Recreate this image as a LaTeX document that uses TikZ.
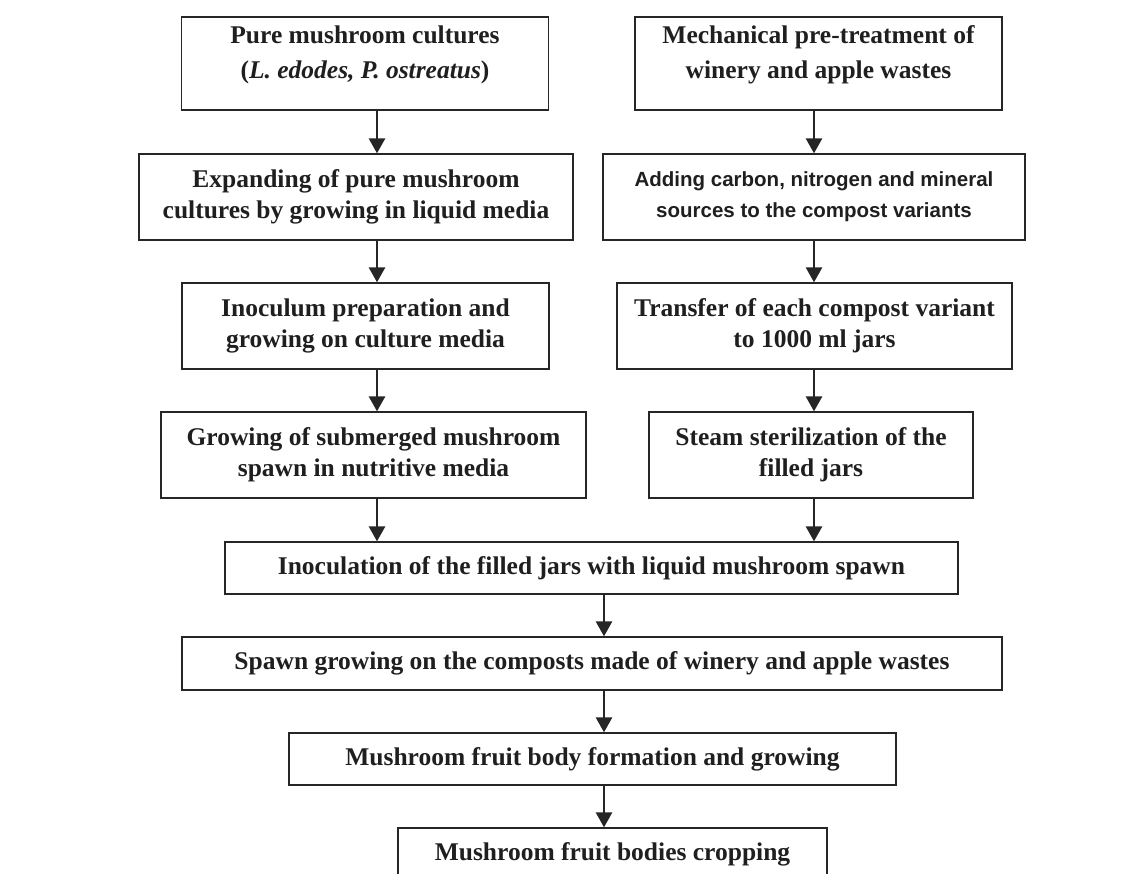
\documentclass[tikz,border=0pt]{standalone}
\usepackage{fontspec}
\setmainfont{Liberation Serif}
\newfontfamily\arialbox{Liberation Sans}
\usepackage{tikz}
\usetikzlibrary{arrows.meta}

\begin{document}
\begin{tikzpicture}[
    x=1pt, y=-1pt,
    font=\fontsize{25.5}{31}\selectfont\bfseries,
    stage/.style={draw=black!85, line width=1.3pt, align=center, inner sep=0pt, text=black!88},
    topstage/.style={stage, minimum width=367pt, minimum height=93pt, text depth=22pt,
        font=\fontsize{25.5}{35}\selectfont\bfseries},
    sansbox/.style={font=\arialbox\fontsize{20.5}{31}\selectfont\bfseries},
    arrow/.style={-{Triangle[length=15pt, width=16pt]}, line width=2.8pt, draw=black!85}
]
\useasboundingbox (0,0) rectangle (1140,874);

% column axes for the arrows
\coordinate (colL) at (377,0);
\coordinate (colR) at (814,0);
\coordinate (colM) at (604,0);

% left column: mushroom cultures
\node[topstage] (cult) at (365,63.5) {Pure mushroom cultures\\(\textit{L. edodes, P. ostreatus})};
\node[stage, minimum width=434pt, minimum height=86pt] (expand) at (356,197) {Expanding of pure mushroom\\cultures by growing in liquid media};
\node[stage, minimum width=367pt, minimum height=86pt] (inoculum) at (365.5,326) {Inoculum preparation and\\growing on culture media};
\node[stage, minimum width=425pt, minimum height=86pt] (submerged) at (373.5,455) {Growing of submerged mushroom\\spawn in nutritive media};

% right column: composts
\node[topstage] (pretreat) at (818.5,63.5) {Mechanical pre-treatment of\\winery and apple wastes};
\node[stage, sansbox, minimum width=422pt, minimum height=86pt] (adding) at (814,197) {Adding carbon, nitrogen and mineral\\sources to the compost variants};
\node[stage, minimum width=395pt, minimum height=86pt] (transfer) at (814.5,326) {Transfer of each compost variant\\to 1000 ml jars};
\node[stage, minimum width=324pt, minimum height=86pt] (steam) at (811,455) {Steam sterilization of the\\filled jars};

% common trunk
\node[stage, minimum width=733pt, minimum height=52pt] (inoculation) at (591.5,568) {Inoculation of the filled jars with liquid mushroom spawn};
\node[stage, minimum width=820pt, minimum height=53pt] (spawn) at (592,663.5) {Spawn growing on the composts made of winery and apple wastes};
\node[stage, minimum width=607pt, minimum height=52pt] (fruit) at (592.5,759) {Mushroom fruit body formation and growing};
\node[stage, minimum width=429pt, minimum height=52pt] (crop) at (612.5,854) {Mushroom fruit bodies cropping};

\draw[arrow] (cult.south -| colL) -- (expand.north -| colL);
\draw[arrow] (expand.south -| colL) -- (inoculum.north -| colL);
\draw[arrow] (inoculum.south -| colL) -- (submerged.north -| colL);
\draw[arrow] (submerged.south -| colL) -- (inoculation.north -| colL);
\draw[arrow] (pretreat.south -| colR) -- (adding.north -| colR);
\draw[arrow] (adding.south -| colR) -- (transfer.north -| colR);
\draw[arrow] (transfer.south -| colR) -- (steam.north -| colR);
\draw[arrow] (steam.south -| colR) -- (inoculation.north -| colR);
\draw[arrow] (inoculation.south -| colM) -- (spawn.north -| colM);
\draw[arrow] (spawn.south -| colM) -- (fruit.north -| colM);
\draw[arrow] (fruit.south -| colM) -- (crop.north -| colM);
\end{tikzpicture}
\end{document}
